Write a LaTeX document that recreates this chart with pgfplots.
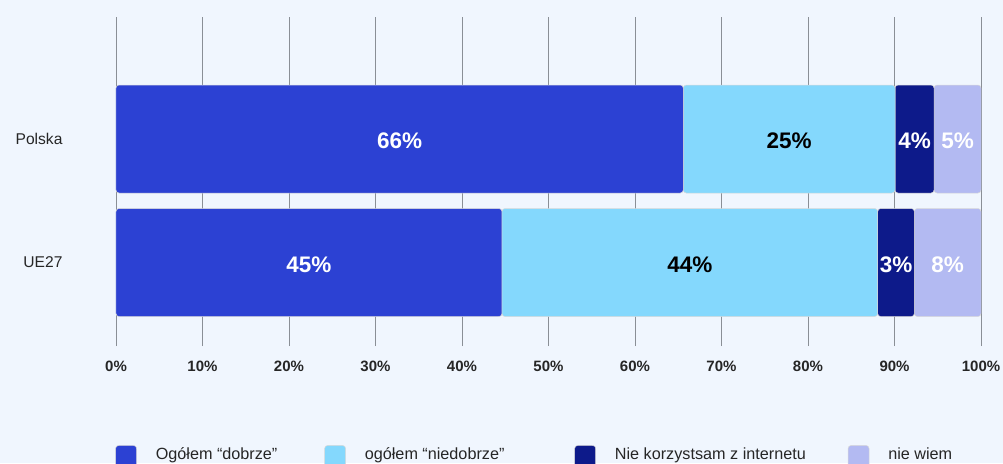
\documentclass[border=0pt]{standalone}
\usepackage{pgfplots}
\pgfplotsset{compat=1.18}
\usepackage{fontspec}
\setmainfont{Liberation Sans}
\definecolor{bg}{HTML}{F0F6FE}
\definecolor{c1}{HTML}{2C41D3}
\definecolor{c2}{HTML}{84D8FD}
\definecolor{c3}{HTML}{0D1A8A}
\definecolor{c4}{HTML}{B3BAF2}
\definecolor{gridc}{HTML}{8A8F96}
\pgfplotsset{
  commonaxis/.style={
    at={(116pt,117pt)}, anchor=south west,
    scale only axis, width=865pt, height=329pt,
    xmin=0, xmax=100, ymin=-0.676, ymax=1.988,
  }
}
\begin{document}
\begin{tikzpicture}[x=1pt,y=1pt]
\fill[bg] (0,0) rectangle (1003,463);
\begin{axis}[
  commonaxis,
  xbar stacked, bar width=108pt,
  axis line style={draw=none},
  major tick length=0pt,
  xmajorgrids, grid style={gridc, line width=0.9pt},
  xtick={0,10,20,30,40,50,60,70,80,90,100},
  xticklabels={0\%,10\%,20\%,30\%,40\%,50\%,60\%,70\%,80\%,90\%,100\%},
  xticklabel style={font=\bfseries\fontsize{15}{15}\selectfont, text=black!85, yshift=-11pt},
  ytick={0,1}, yticklabels={UE27,Polska},
  yticklabel style={font=\fontsize{15.6}{15.6}\selectfont, text=black!85, xshift=-50pt},
  /pgf/number format/assume math mode=true,
  every axis plot/.append style={draw=black!15, line width=0.5pt, rounded corners=3pt},
  legend columns=4,
  legend style={draw=none, fill=none, inner sep=0pt, at={(-0.001,-0.301)}, anchor=north west,
     font=\fontsize{16.2}{19}\selectfont, text=black!85,
     /tikz/every odd column/.append style={column sep=17pt},
     /tikz/column 2/.append style={column sep=45pt},
     /tikz/column 4/.append style={column sep=68pt},
     /tikz/column 6/.append style={column sep=40pt}},
  legend image code/.code={\fill[#1, rounded corners=3pt] (0pt,-16pt) rectangle (21pt,9pt);},
]
\addplot[fill=c1] coordinates {(65.58,1) (44.62,0)};
\addplot[fill=c2] coordinates {(24.48,1) (43.44,0)};
\addplot[fill=c3] coordinates {(4.51,1) (4.23,0)};
\addplot[fill=c4] coordinates {(5.43,1) (7.71,0)};
\legend{Ogółem “dobrze”, ogółem “niedobrze”, Nie korzystsam z internetu, nie wiem}
\end{axis}
% value labels, at the middle of each segment
\begin{axis}[
  commonaxis, hide axis,
  point meta=explicit symbolic,
  nodes near coords,
  every node near coord/.append style={font=\bfseries\fontsize{22.5}{22.5}\selectfont, anchor=center, inner sep=0pt, yshift=-2pt},
  every axis plot/.append style={only marks, mark=*, mark size=0pt, mark options={draw=none, fill=none}},
]
\addplot[nodes near coords style={text=white}] coordinates {(32.79,1)[66\%] (22.31,0)[45\%]};
\addplot[nodes near coords style={text=black}] coordinates {(77.82,1)[25\%] (66.34,0)[44\%]};
\addplot[nodes near coords style={text=white}] coordinates {(92.32,1)[4\%] (90.18,0)[3\%]};
\addplot[nodes near coords style={text=white}] coordinates {(97.29,1)[5\%] (96.15,0)[8\%]};
\end{axis}
\pgfresetboundingbox
\useasboundingbox (0,0) rectangle (1003,463);
\end{tikzpicture}
\end{document}
